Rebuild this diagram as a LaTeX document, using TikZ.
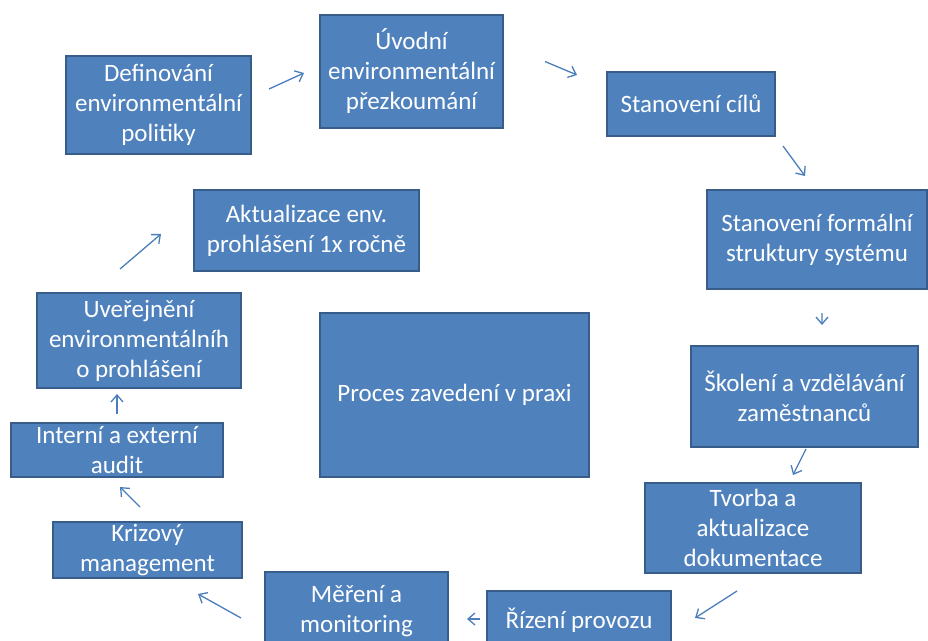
\documentclass[tikz,border=0pt]{standalone}
\usepackage{fontspec}
\setmainfont{Carlito}
\usetikzlibrary{arrows.meta}

\definecolor{boxfill}{RGB}{79,129,189}
\definecolor{boxline}{RGB}{56,93,138}
\definecolor{arrline}{RGB}{74,126,187}

\tikzset{every picture/.style={line width=1.5bp},
  blok/.style={rectangle,draw=boxline,line width=2bp,fill=boxfill,text=white,inner sep=0pt,align=center,
    font=\fontsize{25bp}{30bp}\selectfont},
  sipka/.style={draw=arrline,line width=1.3bp,-{Straight Barb[length=7bp,width=12bp]}}}

\begin{document}
\begin{tikzpicture}[x=1bp,y=1bp,yscale=-1,xscale=1]
\useasboundingbox (0,0) rectangle (928,641);

%Shape: Rectangle [def]
\node[blok,minimum width=185bp,minimum height=98bp] (def) at (158.5,105) {Definování\\environmentální\\politiky};
%Shape: Rectangle [uvod]
\node[blok,minimum width=183bp,minimum height=113bp] (uvod) at (411.5,71.5) {Úvodní\\environmentální\\přezkoumání};
%Shape: Rectangle [cile]
\node[blok,minimum width=168bp,minimum height=64bp] (cile) at (691,104) {Stanovení cílů};
%Shape: Rectangle [form]
\node[blok,minimum width=220bp,minimum height=99bp] (form) at (817,239.5) {Stanovení formální\\struktury systému};
%Shape: Rectangle [skol]
\node[blok,minimum width=227bp,minimum height=101bp] (skol) at (804.5,396.5) {Školení a vzdělávání\\zaměstnanců};
%Shape: Rectangle [tvor]
\node[blok,minimum width=216bp,minimum height=90bp] (tvor) at (753,528) {Tvorba a\\aktualizace\\dokumentace};
%Shape: Rectangle [rize]
\node[blok,minimum width=184bp,minimum height=59bp] (rize) at (579,620.5) {Řízení provozu};
%Shape: Rectangle [mere]
\node[blok,minimum width=183bp,minimum height=78bp] (mere) at (356.5,611) {Měření a\\monitoring};
%Shape: Rectangle [kriz]
\node[blok,minimum width=189bp,minimum height=56bp] (kriz) at (147.5,550) {Krizový\\management};
%Shape: Rectangle [inte]
\node[blok,minimum width=212bp,minimum height=54bp] (inte) at (117,450) {Interní a externí\\audit};
%Shape: Rectangle [uver]
\node[blok,minimum width=204bp,minimum height=95bp] (uver) at (139,340.5) {Uveřejnění\\environmentálníh\\o prohlášení};
%Shape: Rectangle [aktu]
\node[blok,minimum width=225bp,minimum height=81bp] (aktu) at (306.5,230.5) {Aktualizace env.\\prohlášení 1x ročně};
%Shape: Rectangle [proc]
\node[blok,minimum width=269bp,minimum height=164bp] (proc) at (454.5,395) {Proces zavedení v praxi};

%Straight Lines
\draw[sipka] ([shift={(17,-16)}]def.east) -- ([shift={(-15,1.5)}]uvod.west);
\draw[sipka] ([shift={(41,-10)}]uvod.east) -- ([shift={(-29,4)}]cile.north west);
\draw[sipka] ([shift={(7,9)}]cile.south east) -- ([shift={(-12,-13)}]form.north);
\draw[sipka] ([shift={(5,23)}]form.south) -- ([shift={(17.5,-20)}]skol.north);
\draw[sipka] ([shift={(1.5,1)}]skol.south) -- ([shift={(40,-7)}]tvor.north);
\draw[sipka] ([shift={(-16,17)}]tvor.south) -- ([shift={(23,-2.5)}]rize.east);
\draw[sipka] ([shift={(-6,-1.5)}]rize.west) -- ([shift={(18,8)}]mere.east);
\draw[sipka] ([shift={(-23,7)}]mere.west) -- ([shift={(-45,15)}]kriz.south east);
\draw[sipka] ([shift={(-7.5,-14)}]kriz.north) -- ([shift={(3,9)}]inte.south);
\draw[sipka] ([shift={(0,-8)}]inte.north) -- ([shift={(-22,5)}]uver.south);
\draw[sipka] ([shift={(-19,-23)}]uver.north) -- ([shift={(-32,3.5)}]aktu.west);

\end{tikzpicture}
\end{document}
